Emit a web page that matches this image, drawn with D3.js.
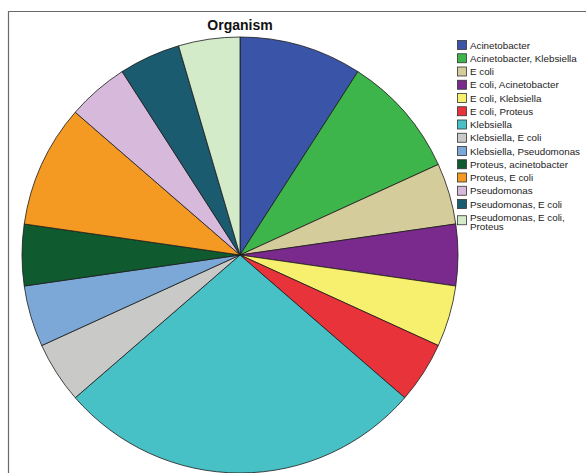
<!DOCTYPE html>
<html>
<head>
<meta charset="utf-8">
<script src="https://cdn.jsdelivr.net/npm/d3@7"></script>
<style>
  body { margin: 0; background: #fff; }
  svg { display: block; font-family: "Liberation Sans", Arial, sans-serif; }
</style>
</head>
<body>
<svg></svg>
<script>
const w = 586;
const h = 473;

const categories = [
  "Acinetobacter", "Acinetobacter, Klebsiella", "E coli", "E coli, Acinetobacter",
  "E coli, Klebsiella", "E coli, Proteus", "Klebsiella", "Klebsiella, E coli",
  "Klebsiella, Pseudomonas", "Proteus, acinetobacter", "Proteus, E coli",
  "Pseudomonas", "Pseudomonas, E coli", "Pseudomonas, E coli, Proteus"
];
const counts = [2, 2, 1, 1, 1, 1, 6, 1, 1, 1, 2, 1, 1, 1];
const colors = [
  "#3a55a8", "#3db54b", "#d5cc9c", "#7a2a8c", "#f6f06e", "#e8333a", "#48c1c6",
  "#c9c9c7", "#7ca8d8", "#0f5a2f", "#f49a22", "#d7b9dc", "#1b5b70", "#d3ebc9"
];

const cx = 240, cy = 255, r = 218;

const svg = d3.select("svg").attr("width", w).attr("height", h);

// outer frame (cropped at right and bottom)
svg.append("path")
  .attr("d", `M8.5,${h + 5} V11.5 H${w + 5}`)
  .attr("fill", "none")
  .attr("stroke", "#6a6a6a")
  .attr("stroke-width", 1.2);

svg.append("text")
  .attr("x", 240)
  .attr("y", 30)
  .attr("text-anchor", "middle")
  .attr("font-size", 14)
  .attr("font-weight", "bold")
  .attr("fill", "#111")
  .text("Organism");

const color = d3.scaleOrdinal().domain(categories).range(colors);

const pie = d3.pie().sort(null).value((d, i) => counts[i]);
const arc = d3.arc().innerRadius(0).outerRadius(r);

svg.append("g")
  .attr("transform", `translate(${cx},${cy})`)
  .selectAll("path")
  .data(pie(categories))
  .enter()
  .append("path")
  .attr("d", arc)
  .attr("fill", (d) => color(d.data))
  .attr("stroke", "#1a1a1a")
  .attr("stroke-width", 0.8);

/** legend */
const legendX = 457;
const legendY = 45;
const rowH = 13.25;
const sw = 9;
const last = categories.length - 1;

const legend = svg.append("g")
  .selectAll("g")
  .data(categories)
  .enter()
  .append("g")
  .attr("transform", (d, i) =>
    `translate(${legendX},${legendY + i * rowH + (i === last ? 3 : 0)})`);

legend.append("rect")
  .attr("x", 0.5)
  .attr("y", -sw / 2)
  .attr("width", sw)
  .attr("height", sw)
  .attr("fill", (d) => color(d))
  .attr("stroke", "#333")
  .attr("stroke-width", 0.8);

legend.append("text")
  .attr("x", 13)
  .attr("y", 3.5)
  .attr("font-size", 9.8)
  .attr("fill", "#222")
  .each(function (d, i) {
    const t = d3.select(this);
    if (i === last) {
      t.attr("y", 0.5);
      t.append("tspan").attr("x", 13).text("Pseudomonas, E coli,");
      t.append("tspan").attr("x", 13).attr("dy", 9.5).text("Proteus");
    } else {
      t.text(d);
    }
  });
</script>
</body>
</html>
